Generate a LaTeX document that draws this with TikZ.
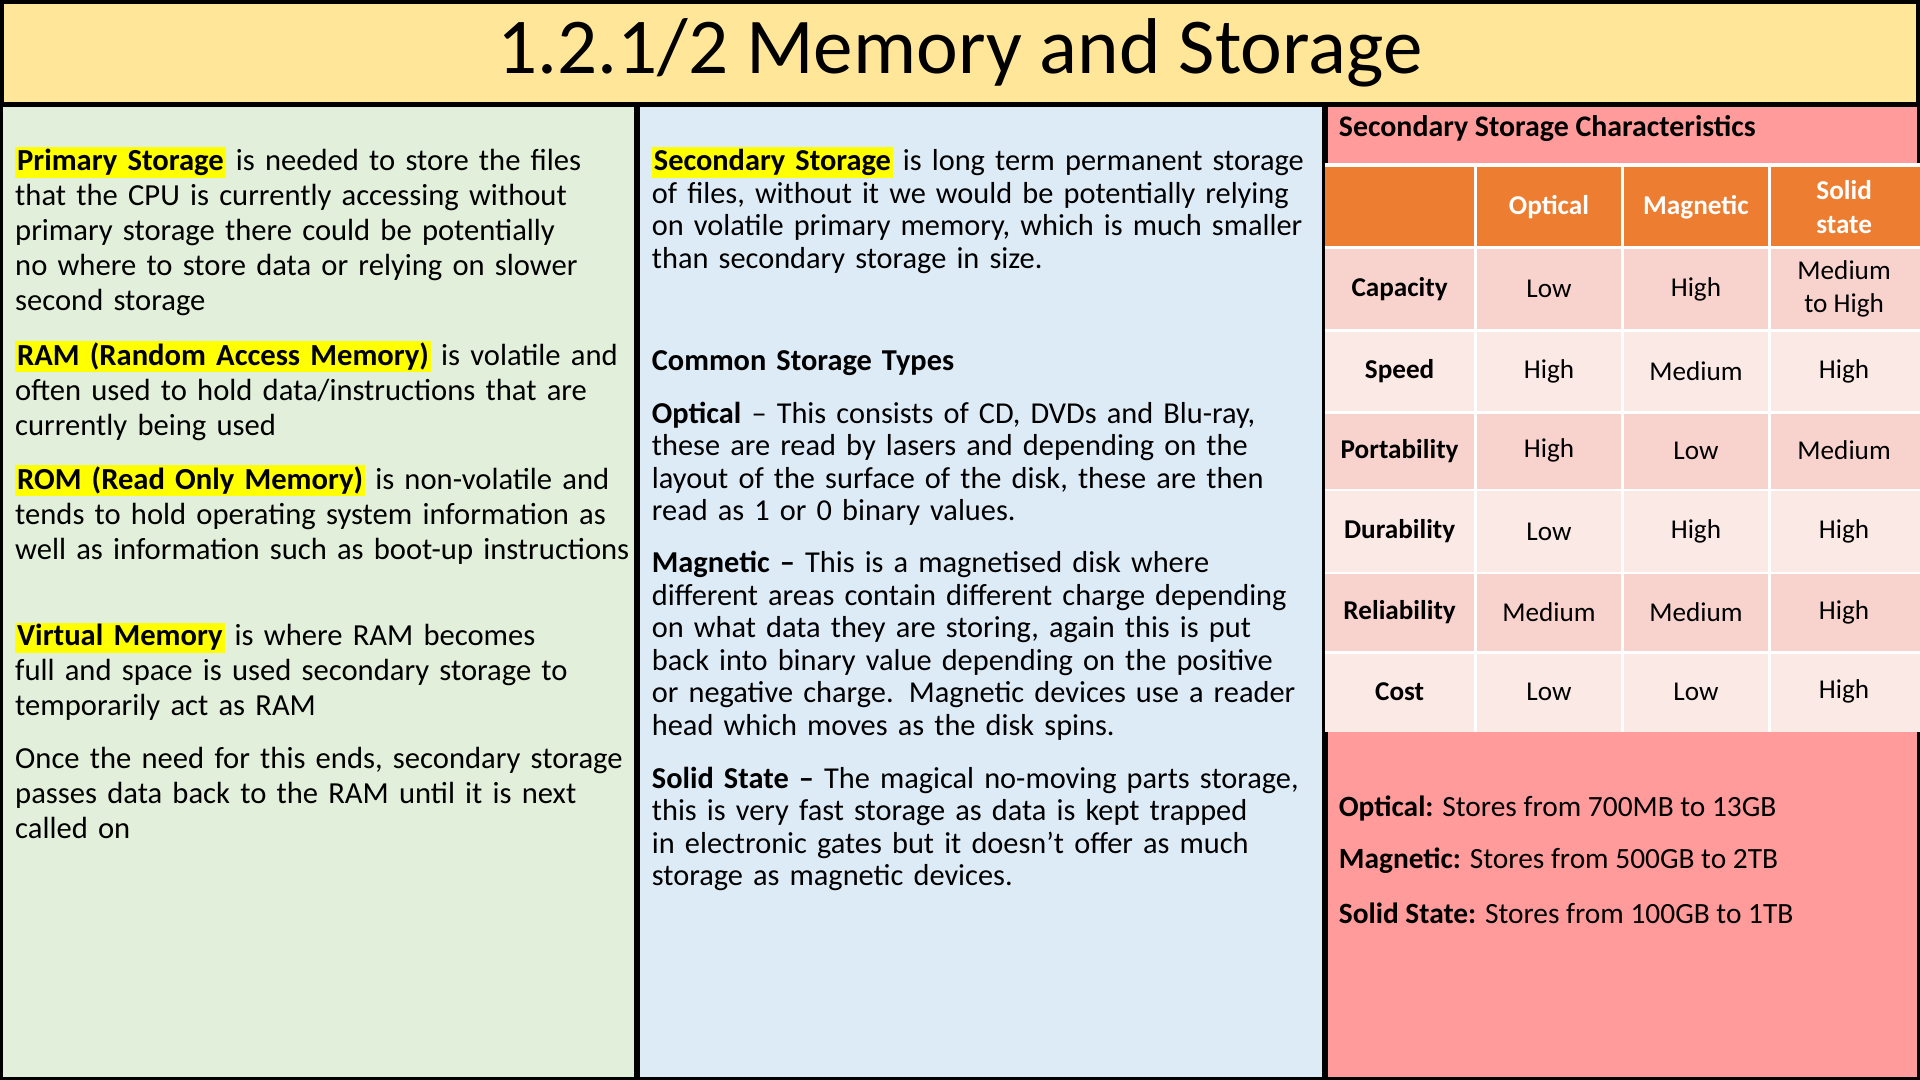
\documentclass[tikz,border=0pt]{standalone}
\usepackage{fontspec}
\setmainfont{Carlito}
\definecolor{titlebg}{HTML}{FFE699}
\definecolor{leftbg}{HTML}{E2EFDA}
\definecolor{midbg}{HTML}{DDEBF7}
\definecolor{rightbg}{HTML}{FF9B9B}
\definecolor{headbg}{HTML}{ED7D31}
\definecolor{rowdark}{HTML}{F8D3CD}
\definecolor{rowlight}{HTML}{FBE9E6}
\definecolor{hlyellow}{HTML}{FFFF00}
\newcommand{\hlt}[1]{{\setlength{\fboxsep}{0.8pt}\colorbox{hlyellow}{\textbf{#1}}}}
\newcommand{\nohy}{\hyphenpenalty=10000\relax}
\tikzset{
  lefttext/.style={anchor=north west,inner sep=0pt,text width=252pt,align=left,font=\fontsize{12.5}{14.25}\selectfont,execute at begin node=\nohy},
  midtext/.style={anchor=north west,inner sep=0pt,text width=271pt,align=left,font=\fontsize{12.4}{13.25}\selectfont,execute at begin node=\nohy},
  cell/.style={font=\fontsize{11.1}{13.8}\selectfont,align=center},
  headcell/.style={cell,text=white,font=\fontsize{11.1}{13.8}\selectfont\bfseries}
}
\begin{document}
\begin{tikzpicture}[x=0.5pt,y=-0.5pt]
\useasboundingbox (0,0) rectangle (1568,882);
% panels
\fill[leftbg] (0,85) rectangle (520,882);
\fill[midbg] (520,85) rectangle (1082,882);
\fill[rightbg] (1082,85) rectangle (1568,882);
\draw[fill=titlebg,line width=2pt] (1,1) rectangle (1567,85);
\draw[line width=2.5pt] (520,85) -- (520,882);
\draw[line width=2.5pt] (1082,85) -- (1082,882);
\draw[line width=1.5pt] (1,85) -- (1,881) -- (1567,881) -- (1567,85);
\node (title) at (784,43) {\fontsize{32.3}{38}\selectfont 1.2.1/2 Memory and Storage};

% left column
\node[lefttext] (primary) at (12,120) {\hlt{Primary Storage} is needed to store the files that the CPU is currently accessing without primary storage there could be potentially no where to store data or relying on slower second storage};
\node[lefttext] (ram) at (12,278) {\hlt{RAM (Random Access Memory)} is volatile and often used to hold data/instructions that are currently being used};
\node[lefttext] (rom) at (12,379) {\hlt{ROM (Read Only Memory)} is non-volatile and tends to hold operating system information as well as information such as boot-up instructions};
\node[lefttext] (virtual) at (12,508) {\hlt{Virtual Memory} is where RAM becomes full and space is used secondary storage to temporarily act as RAM};
\node[lefttext] (once) at (12,610) {Once the need for this ends, secondary storage passes data back to the RAM until it is next called on};

% middle column
\node[midtext] (secondary) at (532,120) {\hlt{Secondary Storage} is long term permanent storage of files, without it we would be potentially relying on volatile primary memory, which is much smaller than secondary storage in size.};
\node[midtext] (common) at (532,286) {\textbf{Common Storage Types}};
\node[midtext] (optical) at (532,328) {\textbf{Optical} -- This consists of CD, DVDs and Blu-ray, these are read by lasers and depending on the layout of the surface of the disk, these are then read as 1 or 0 binary values.};
\node[midtext] (magnetic) at (532,450) {\textbf{Magnetic --} This is a magnetised disk where different areas contain different charge depending on what data they are storing, again this is put back into binary value depending on the positive or negative charge. Magnetic devices use a reader head which moves as the disk spins.};
\node[midtext] (solid) at (532,626) {\textbf{Solid State --} The magical no-moving parts storage, this is very fast storage as data is kept trapped in electronic gates but it doesn't offer as much storage as magnetic devices.};

% right column
\node[anchor=west,inner sep=0pt,font=\fontsize{12.2}{14}\selectfont\bfseries] (chartitle) at (1093,105) {Secondary Storage Characteristics};
\fill[headbg] (1082,135) rectangle (1568,202);
\foreach \ya/\yb/\col in {202/270/rowdark,270/337/rowlight,337/400/rowdark,400/468/rowlight,468/533/rowdark,533/598/rowlight}
  \fill[\col] (1082,\ya) rectangle (1568,\yb);
\foreach \x in {1205,1325,1445}
  \draw[white,line width=1pt] (\x,135) -- (\x,598);
\foreach \y in {202,270,337,400,468,533}
  \draw[white,line width=1pt] (1082,\y) -- (1568,\y);
\draw[white,line width=1.5pt] (1082,135) -- (1568,135);
\node[headcell] (hopt) at (1265,169) {Optical};
\node[headcell] (hmag) at (1385,169) {Magnetic};
\node[headcell] (hsol) at (1506,169) {Solid\\state};
\foreach \y/\name/\a/\b/\c in {236/Capacity/Low/High/{Medium\\to High},303/Speed/High/Medium/High,368/Portability/High/Low/Medium,434/Durability/Low/High/High,500/Reliability/Medium/Medium/High,565/Cost/Low/Low/High}{
  \node[cell,font=\fontsize{11.1}{13.8}\selectfont\bfseries] (r\name) at (1143,\y) {\name};
  \node[cell] (o\name) at (1265,\y) {\a};
  \node[cell] (m\name) at (1385,\y) {\b};
  \node[cell] (s\name) at (1506,\y) {\c};
}
\begin{scope}[every node/.style={anchor=west,inner sep=0pt,font=\fontsize{12}{14}\selectfont}]
\node (sopt) at (1093,660) {\textbf{Optical:} Stores from 700MB to 13GB};
\node (smag) at (1093,703) {\textbf{Magnetic:} Stores from 500GB to 2TB};
\node (ssol) at (1093,746) {\textbf{Solid State:} Stores from 100GB to 1TB};
\end{scope}
\end{tikzpicture}
\end{document}
